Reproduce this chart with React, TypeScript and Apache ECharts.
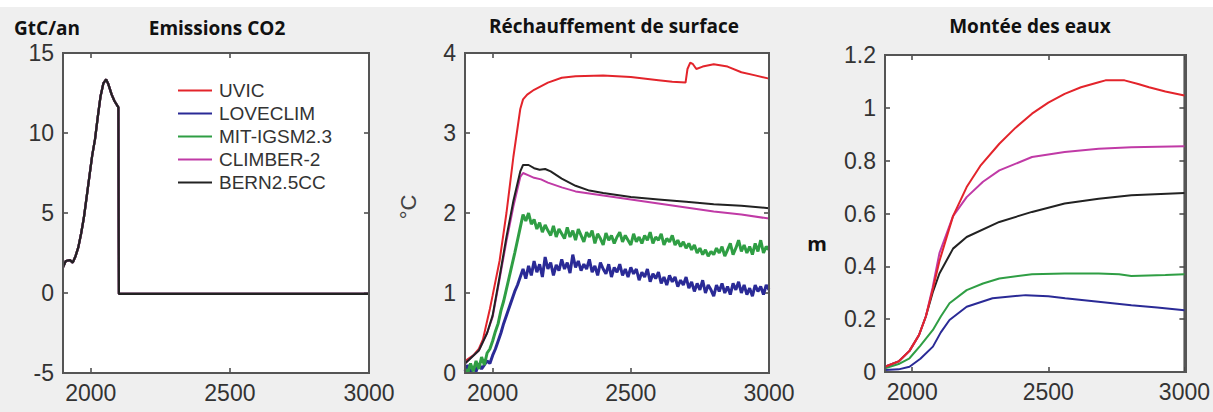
import React, { useEffect, useRef } from "react";
import * as echarts from "echarts";

const models = ["UVIC", "LOVECLIM", "MIT-IGSM2.3", "CLIMBER-2", "BERN2.5CC"];
const modelColors = ["#e3242b", "#2a2a96", "#2f9e44", "#c03aa6", "#222222"];

const xTickValues = [2000, 2500, 3000];

// Panel 1: CO2 emissions (GtC/yr), identical for all models
const emissions: [number, number][] = [
  [1900, 1.6], [1910, 2.0], [1925, 2.05], [1935, 1.9], [1945, 2.3], [1955, 2.85],
  [1965, 3.7], [1975, 4.7], [1985, 6.0], [1995, 7.3], [2005, 8.6], [2015, 9.6],
  [2025, 11.0], [2035, 12.3], [2045, 13.1], [2055, 13.35], [2062, 13.1],
  [2075, 12.4], [2085, 12.0], [2099, 11.6], [2101, -0.05], [3000, -0.05],
];

// Panel 2: surface warming (°C)
const tempUVIC: [number, number][] = [
  [1900, 0.15], [1930, 0.22], [1950, 0.3], [1965, 0.42], [1980, 0.65], [1990, 0.8],
  [2000, 0.97], [2025, 1.4], [2050, 2.0], [2075, 2.7], [2100, 3.3], [2110, 3.42],
  [2125, 3.48], [2150, 3.54], [2200, 3.63], [2250, 3.69], [2300, 3.71], [2400, 3.72],
  [2500, 3.7], [2600, 3.66], [2650, 3.64], [2698, 3.63], [2705, 3.8], [2715, 3.88],
  [2725, 3.86], [2737, 3.8], [2760, 3.83], [2800, 3.86], [2850, 3.83], [2900, 3.76],
  [2950, 3.72], [3000, 3.68],
];
const tempCLIMBER: [number, number][] = [
  [1900, 0.12], [1950, 0.28], [1980, 0.5], [2000, 0.7], [2025, 1.17], [2050, 1.65],
  [2075, 2.08], [2100, 2.45], [2110, 2.5], [2130, 2.47], [2150, 2.44], [2175, 2.42],
  [2200, 2.38], [2250, 2.32], [2300, 2.27], [2400, 2.22], [2500, 2.17], [2600, 2.12],
  [2700, 2.07], [2800, 2.02], [2900, 1.98], [3000, 1.93],
];
const tempBERN: [number, number][] = [
  [1900, 0.12], [1950, 0.28], [1980, 0.5], [2000, 0.72], [2025, 1.2], [2050, 1.7],
  [2075, 2.15], [2100, 2.52], [2110, 2.6], [2130, 2.6], [2150, 2.56], [2170, 2.54],
  [2190, 2.55], [2210, 2.52], [2250, 2.43], [2300, 2.34], [2350, 2.28], [2400, 2.25],
  [2500, 2.2], [2600, 2.17], [2700, 2.14], [2800, 2.11], [2900, 2.09], [3000, 2.06],
];
// noisy series, one value per decade from 1900 to 3000
const decadeStart = 1900;
const tempMITValues = [
  0.05, 0.0, 0.12, 0.02, 0.15, 0.05, 0.2, 0.1, 0.25, 0.3,
  0.4, 0.52, 0.62, 0.78, 0.9, 1.05, 1.2, 1.35, 1.5, 1.66,
  1.82, 1.98, 1.9, 2.0, 1.86, 1.92, 1.8, 1.88, 1.76, 1.85,
  1.78, 1.72, 1.84, 1.7, 1.8, 1.74, 1.68, 1.82, 1.7, 1.78,
  1.66, 1.8, 1.72, 1.64, 1.76, 1.7, 1.78, 1.62, 1.74, 1.68,
  1.6, 1.75, 1.66, 1.72, 1.62, 1.7, 1.76, 1.64, 1.72, 1.66,
  1.6, 1.74, 1.64, 1.7, 1.62, 1.72, 1.66, 1.76, 1.62, 1.7,
  1.66, 1.74, 1.6, 1.68, 1.64, 1.72, 1.6, 1.66, 1.58, 1.64,
  1.56, 1.62, 1.54, 1.6, 1.5, 1.56, 1.48, 1.54, 1.46, 1.52,
  1.48, 1.56, 1.5, 1.58, 1.46, 1.54, 1.62, 1.48, 1.56, 1.66,
  1.52, 1.6, 1.5, 1.58, 1.48, 1.62, 1.52, 1.66, 1.5, 1.58,
  1.54,
];
const tempLOVECLIMValues = [
  0.02, 0.1, 0.0, 0.08, 0.02, 0.12, 0.05, 0.1, 0.15, 0.12,
  0.22, 0.3, 0.4, 0.5, 0.62, 0.72, 0.82, 0.92, 1.02, 1.1,
  1.2, 1.3, 1.18, 1.34, 1.22, 1.4, 1.26, 1.36, 1.2, 1.45,
  1.3, 1.38, 1.22, 1.35, 1.28, 1.42, 1.3, 1.38, 1.25, 1.48,
  1.32, 1.4, 1.28, 1.36, 1.3, 1.42, 1.26, 1.34, 1.22, 1.38,
  1.3, 1.24, 1.36, 1.2, 1.32, 1.26, 1.36, 1.22, 1.3, 1.2,
  1.32, 1.24, 1.3, 1.16, 1.26, 1.2, 1.3, 1.14, 1.24, 1.18,
  1.26, 1.12, 1.2, 1.1, 1.22, 1.14, 1.2, 1.08, 1.16, 1.1,
  1.2, 1.06, 1.14, 1.02, 1.12, 1.04, 1.16, 1.0, 1.1, 1.04,
  0.96, 1.1, 1.02, 1.12, 1.0, 1.08, 0.98, 1.12, 1.04, 1.14,
  1.0, 1.1, 0.98, 1.06, 0.96, 1.1, 1.02, 1.08, 0.98, 1.1,
  1.04,
];

// Panel 3: sea level rise (m)
const seaUVIC: [number, number][] = [
  [1900, 0.02], [1950, 0.04], [1990, 0.08], [2025, 0.14], [2050, 0.21], [2075, 0.31],
  [2100, 0.42], [2150, 0.59], [2200, 0.7], [2250, 0.78], [2320, 0.864], [2380, 0.925],
  [2440, 0.978], [2500, 1.02], [2560, 1.053], [2620, 1.078], [2685, 1.097], [2710, 1.104],
  [2780, 1.104], [2830, 1.09], [2870, 1.078], [2930, 1.062], [3000, 1.047],
];
const seaCLIMBER: [number, number][] = [
  [1900, 0.02], [1950, 0.04], [1990, 0.08], [2025, 0.14], [2050, 0.21], [2075, 0.32],
  [2100, 0.45], [2150, 0.59], [2200, 0.662], [2260, 0.72], [2320, 0.763], [2440, 0.814],
  [2560, 0.833], [2685, 0.845], [2805, 0.851], [3000, 0.855],
];
const seaBERN: [number, number][] = [
  [1900, 0.02], [1950, 0.04], [1990, 0.08], [2025, 0.14], [2050, 0.21], [2075, 0.3],
  [2100, 0.373], [2150, 0.467], [2200, 0.511], [2320, 0.568], [2440, 0.606],
  [2560, 0.638], [2685, 0.656], [2805, 0.669], [3000, 0.678],
];
const seaMIT: [number, number][] = [
  [1900, 0.014], [1950, 0.03], [1990, 0.052], [2030, 0.1], [2076, 0.159], [2105, 0.21],
  [2137, 0.26], [2200, 0.31], [2260, 0.335], [2320, 0.354], [2440, 0.37], [2560, 0.373],
  [2685, 0.373], [2760, 0.37], [2805, 0.363], [2930, 0.367], [3000, 0.37],
];
const seaLOVECLIM: [number, number][] = [
  [1900, 0.008], [1950, 0.01], [1990, 0.02], [2030, 0.05], [2076, 0.096], [2105, 0.15],
  [2137, 0.197], [2200, 0.247], [2295, 0.279], [2417, 0.291], [2500, 0.287],
  [2562, 0.279], [2684, 0.266], [2805, 0.253], [2900, 0.244], [3000, 0.234],
];

const decadeSeries = (vals: number[]): [number, number][] =>
  vals.map((v, i) => [decadeStart + 10 * i, v]);

const tickFont = "Liberation Sans, Arial, sans-serif";
const titleFont = "Open Sans, Noto Sans, sans-serif";

export default function App() {
  const ref = useRef<HTMLDivElement>(null);
  useEffect(() => {
    if (!ref.current) return;
    const chart = echarts.init(ref.current, undefined, { renderer: "svg" });

    const grids = [
      { left: 63, top: 53, width: 306, height: 320 },
      { left: 465, top: 53, width: 304, height: 320 },
      { left: 885, top: 55, width: 301, height: 317 },
    ];
    const yRanges = [
      { min: -5, max: 15, interval: 5 },
      { min: 0, max: 4, interval: 1 },
      { min: 0, max: 1.2, interval: 0.2 },
    ];

    const xAxes: any[] = [];
    const yAxes: any[] = [];
    grids.forEach((_, g) => {
      xAxes.push({
        type: "value", gridIndex: g, min: 1900, max: 3000, interval: 100, position: "bottom",
        axisLine: { show: true, onZero: false, lineStyle: { color: "#555", width: 2 } },
        splitLine: { show: false },
        axisTick: {
          show: true, inside: true, length: 5, customValues: xTickValues,
          lineStyle: { color: "#444", width: 1.5 },
        },
        axisLabel: {
          fontSize: 23, color: "#333", fontFamily: tickFont, margin: 8,
          formatter: (v: number) => (xTickValues.indexOf(v) >= 0 ? String(v) : ""),
        },
      });
      xAxes.push({
        type: "value", gridIndex: g, min: 1900, max: 3000, interval: 100, position: "top",
        axisLine: { show: true, onZero: false, lineStyle: { color: "#555", width: 2 } },
        splitLine: { show: false },
        axisTick: {
          show: true, inside: true, length: 5, customValues: xTickValues,
          lineStyle: { color: "#444", width: 1.5 },
        },
        axisLabel: { show: false },
      });
      yAxes.push({
        type: "value", gridIndex: g, ...yRanges[g], position: "left",
        axisLine: { show: true, onZero: false, lineStyle: { color: "#555", width: 2 } },
        splitLine: { show: false },
        axisTick: { show: true, inside: true, length: 5, lineStyle: { color: "#444", width: 1.5 } },
        axisLabel: {
          fontSize: 23, color: "#333", fontFamily: tickFont, margin: 9,
          formatter: (v: number) => String(Math.round(v * 10) / 10),
        },
      });
      yAxes.push({
        type: "value", gridIndex: g, ...yRanges[g], position: "right",
        axisLine: { show: true, onZero: false, lineStyle: { color: "#555", width: 2 } },
        splitLine: { show: false },
        axisTick: { show: true, inside: true, length: 5, lineStyle: { color: "#444", width: 1.5 } },
        axisLabel: { show: false },
      });
    });

    const line = (name: string, color: string, data: [number, number][], g: number, width = 2) => ({
      type: "line", name, data, xAxisIndex: g * 2, yAxisIndex: g * 2,
      showSymbol: false, symbol: "none", smooth: false, clip: false,
      lineStyle: { color, width }, itemStyle: { color },
    });

    const series: any[] = [];
    models.forEach((m, i) => series.push(line(m, modelColors[i], emissions, 0, 2.2)));
    series.push(line("UVIC", modelColors[0], tempUVIC, 1));
    series.push(line("LOVECLIM", modelColors[1], decadeSeries(tempLOVECLIMValues), 1, 3));
    series.push(line("MIT-IGSM2.3", modelColors[2], decadeSeries(tempMITValues), 1, 3));
    series.push(line("CLIMBER-2", modelColors[3], tempCLIMBER, 1));
    series.push(line("BERN2.5CC", modelColors[4], tempBERN, 1));
    series.push(line("LOVECLIM", modelColors[1], seaLOVECLIM, 2));
    series.push(line("MIT-IGSM2.3", modelColors[2], seaMIT, 2));
    series.push(line("BERN2.5CC", modelColors[4], seaBERN, 2));
    series.push(line("CLIMBER-2", modelColors[3], seaCLIMBER, 2));
    series.push(line("UVIC", modelColors[0], seaUVIC, 2));

    const txt = (text: string, x: number, y: number, font: any, extra: any = {}) => ({
      type: "text", x, y, ...extra,
      style: { text, align: "center", verticalAlign: "middle", fill: "#111", ...font },
    });
    const titleStyle = { fontFamily: titleFont, fontWeight: "bold", fontSize: 19 };

    chart.setOption({
      animation: false,
      backgroundColor: "#efefef",
      grid: grids.map((g) => ({
        ...g, show: true, backgroundColor: "#ffffff", borderColor: "#555", borderWidth: 2,
      })),
      xAxis: xAxes,
      yAxis: yAxes,
      legend: {
        data: models, orient: "vertical", left: 173, top: 76,
        icon: "rect", itemWidth: 34, itemHeight: 2, itemGap: 4, selectedMode: false,
        textStyle: { fontSize: 19, color: "#333", fontFamily: tickFont, padding: [0, 0, 0, 2] },
      },
      series,
      graphic: [
        { type: "rect", z: -10, shape: { x: 0, y: 0, width: 1213, height: 7 }, style: { fill: "#ffffff" } },
        ...grids.map((g) => ({
          type: "rect", z: 100, silent: true,
          shape: { x: g.left, y: g.top, width: g.width, height: g.height },
          style: { fill: "none", stroke: "#555", lineWidth: 2 },
        })),
        txt("GtC/an", 47, 28, titleStyle),
        txt("Emissions CO2", 217, 28, titleStyle),
        txt("Réchauffement de surface", 614, 26, titleStyle),
        txt("Montée des eaux", 1030, 26, titleStyle),
        txt("°C", 408, 207, { fontFamily: tickFont, fontSize: 22, fill: "#444" }, { rotation: Math.PI / 2 }),
        txt("m", 817, 243, { fontFamily: titleFont, fontWeight: "bold", fontSize: 20 }),
      ],
    });
    return () => chart.dispose();
  }, []);
  return (
    <div
      ref={ref}
      style={{ position: "absolute", left: 0, top: 0, width: 1213, height: 412 }}
    />
  );
}
